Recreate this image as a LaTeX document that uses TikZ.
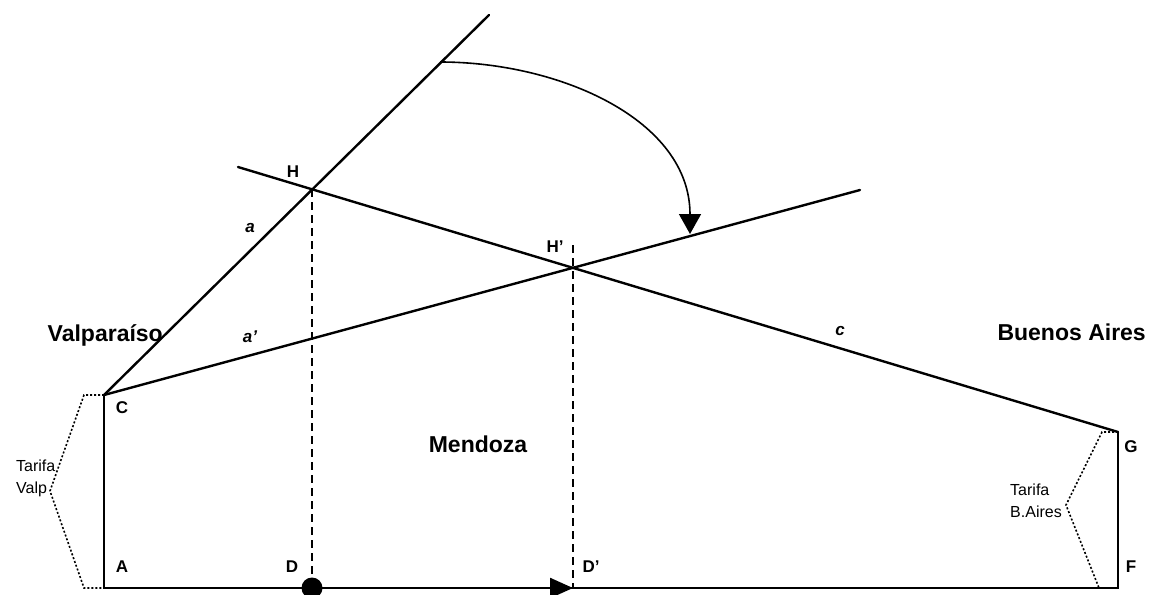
\documentclass[tikz,border=0pt]{standalone}
\usepackage{fontspec}
\setmainfont{Liberation Sans}
\usetikzlibrary{arrows.meta,positioning,calc}
\tikzset{
  mainline/.style={draw=black,line width=2.4pt,line cap=round,line join=miter},
  dropline/.style={draw=black,line width=2pt,dash pattern=on 8pt off 5pt},
  tarifaline/.style={draw=black,line width=1.6pt,dash pattern=on 2pt off 2pt},
  turnarr/.style={-{Triangle[length=20pt,width=22pt]},line width=1.6pt,draw=black},
  movearr/.style={-{Triangle[length=23pt,width=20pt]},line width=2.4pt,draw=black},
  city/.style={font=\fontsize{23}{26}\selectfont\bfseries,inner sep=0pt},
  ptlabel/.style={font=\fontsize{17}{19}\selectfont\bfseries,inner sep=0pt},
  seglabel/.style={font=\fontsize{17}{19}\selectfont\bfseries\itshape,inner sep=0pt},
  tarifa/.style={font=\fontsize{16}{22}\selectfont,align=left,inner sep=0pt},
  dot/.style={circle,fill=black,inner sep=0pt,minimum size=21pt}
}
\begin{document}
\begin{tikzpicture}[x=1pt,y=-1pt]
    \path[use as bounding box] (0,0) rectangle (1150,594);

    % main points
    \coordinate (C) at (104,395);
    \coordinate (A) at (104,588);
    \coordinate (G) at (1118,432);
    \coordinate (F) at (1118,588);
    \coordinate (H) at (312,189);
    \coordinate (Hp) at (573,268);
    \coordinate (D) at (312,588);
    \coordinate (Dp) at (573,588);
    \coordinate (atop) at (489,15);
    \coordinate (aturn) at (440,62);
    \coordinate (cleft) at (238,167);
    \coordinate (apend) at (860,190);
    \coordinate (Hptop) at (573,245);
    \coordinate (turnend) at (690,234);

    % price profile
    \draw[mainline] (C) -- (A) -- (F) -- (G);
    \draw[mainline] (C) -- (atop);
    \draw[mainline] (C) -- (apend);
    \draw[mainline] (cleft) -- (G);

    % projections
    \draw[dropline] (H) -- (D);
    \draw[dropline] (Hptop) -- (Dp);

    % rotation of a
    \draw[turnarr] (aturn) .. controls (560,62) and (690,120) .. (turnend);

    % displacement of the market border
    \node[dot] (start) at (D) {};
    \draw[movearr] (start.center) -- (Dp);

    % tariff brackets
    \draw[tarifaline] (C) -- (84,395) -- (50,491) -- (84,588) -- (A);
    \draw[tarifaline] (G) -- (1102,432) -- (1066,505) -- (1099,588);

    % labels
    \node[city,anchor=base east] (valp) at (163,341) {Valparaíso};
    \node[city,anchor=base east] (baires) at (1146,340) {Buenos Aires};
    \node[city] (mendoza) at (478,444) {Mendoza};

    \node[ptlabel] (lC) at (122,408) {C};
    \node[ptlabel] (lA) at (122,567) {A};
    \node[ptlabel] (lD) at (292,567) {D};
    \node[ptlabel] (lDp) at (591,567) {D’};
    \node[ptlabel] (lG) at (1131,447) {G};
    \node[ptlabel] (lF) at (1131,567) {F};
    \node[ptlabel] (lH) at (293,172) {H};
    \node[ptlabel] (lHp) at (555,247) {H’};

    \node[seglabel] (la) at (250,228) {a};
    \node[seglabel] (lap) at (250,337) {a’};
    \node[seglabel] (lc) at (840,331) {c};

    \node[tarifa,anchor=west] (tv) at (16,478) {Tarifa\\Valp};
    \node[tarifa,anchor=west] (tb) at (1010,501) {Tarifa\\B.Aires};
  \end{tikzpicture}
\end{document}
